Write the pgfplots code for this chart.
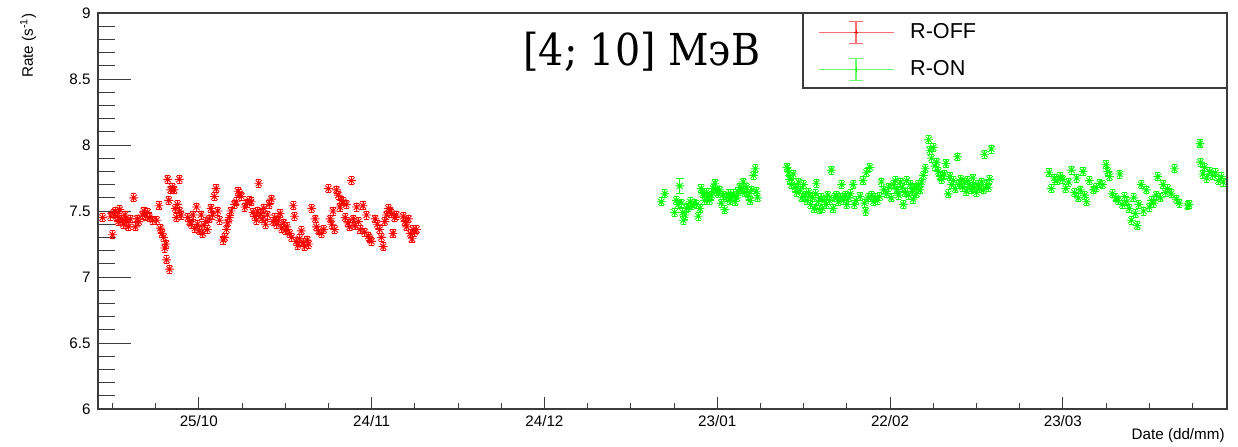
\documentclass[border=0pt]{standalone}
\usepackage{graphicx}
\usepackage{fontspec}
\setmainfont{Liberation Sans}
\newfontfamily\titlefont{DejaVu Serif}
\usepackage{pgfplots}
\usepackage{pgfplotstable}
\pgfplotsset{compat=1.18}

\definecolor{rootred}{RGB}{255,0,0}
\definecolor{rootgreen}{RGB}{0,255,0}
\definecolor{rootredlight}{RGB}{255,110,110}
\definecolor{rootgreenlight}{RGB}{110,255,110}
\definecolor{frame}{RGB}{60,60,60}

% ROOT-style asterisk marker: a "+" and an "x" overlaid
\pgfdeclareplotmark{rootstar}{%
  \pgfpathmoveto{\pgfqpoint{-\pgfplotmarksize}{0pt}}\pgfpathlineto{\pgfqpoint{\pgfplotmarksize}{0pt}}%
  \pgfpathmoveto{\pgfqpoint{0pt}{-\pgfplotmarksize}}\pgfpathlineto{\pgfqpoint{0pt}{\pgfplotmarksize}}%
  \pgfpathmoveto{\pgfqpoint{-.707\pgfplotmarksize}{-.707\pgfplotmarksize}}\pgfpathlineto{\pgfqpoint{.707\pgfplotmarksize}{.707\pgfplotmarksize}}%
  \pgfpathmoveto{\pgfqpoint{-.707\pgfplotmarksize}{.707\pgfplotmarksize}}\pgfpathlineto{\pgfqpoint{.707\pgfplotmarksize}{-.707\pgfplotmarksize}}%
  \pgfusepathqstroke}

% legend symbol: line with an error bar and a tiny marker in the middle
\newcommand\errlegend[2]{%
  \draw[draw=#2, line width=0.6pt] (0pt,0pt) -- (37.5pt,0pt);
  \draw[draw=#2, line width=0.6pt] (18.75pt,-5.5pt) -- (18.75pt,5.5pt);
  \draw[draw=#2, line width=0.6pt] (15.25pt,-5.5pt) -- (22.25pt,-5.5pt);
  \draw[draw=#2, line width=0.6pt] (15.25pt,5.5pt) -- (22.25pt,5.5pt);
  \draw[draw=#1, line width=0.5pt] (17.6pt,0pt) -- (19.9pt,0pt);
  \draw[draw=#1, line width=0.5pt] (18.75pt,-1.1pt) -- (18.75pt,1.1pt);
}

\newcommand\tickfont{\fontsize{7.6}{9}\selectfont}

% days counted from 25/10, rate in 1/s
\pgfplotstableread{
day rate
-16.7 7.45
-15.3 7.46
-15.0 7.32
-14.8 7.48
-14.5 7.50
-14.2 7.46
-14.0 7.42
-13.7 7.51
-13.4 7.44
-13.1 7.40
-12.8 7.47
-12.5 7.42
-12.2 7.38
-11.9 7.44
-11.3 7.60
-11.0 7.38
-10.7 7.44
-10.4 7.42
-9.8 7.47
-9.5 7.50
-9.2 7.46
-8.9 7.49
-8.6 7.45
-8.0 7.43
-7.3 7.43
-6.9 7.54
-6.7 7.37
-6.4 7.33
-6.1 7.30
-5.9 7.22
-5.7 7.25
-5.6 7.13
-5.4 7.74
-5.2 7.58
-5.1 7.06
-4.9 7.66
-4.6 7.68
-4.3 7.66
-4.1 7.52
-3.9 7.45
-3.7 7.55
-3.4 7.74
-3.3 7.50
-3.1 7.47
-1.9 7.45
-1.6 7.42
-1.3 7.40
-1.0 7.47
-0.7 7.37
-0.4 7.53
-0.2 7.40
0.1 7.35
0.4 7.47
0.7 7.33
0.9 7.39
1.2 7.42
1.5 7.36
1.8 7.44
2.1 7.52
2.4 7.47
2.7 7.61
3.0 7.67
3.3 7.50
3.6 7.43
4.2 7.28
4.5 7.30
4.8 7.36
5.0 7.41
5.3 7.45
5.6 7.50
6.2 7.55
6.5 7.57
6.8 7.65
7.1 7.63
7.4 7.61
8.0 7.53
8.4 7.56
8.8 7.58
9.1 7.57
9.4 7.49
9.7 7.46
10.0 7.43
10.2 7.50
10.4 7.71
10.7 7.48
11.0 7.44
11.3 7.52
11.6 7.40
11.9 7.47
12.2 7.55
12.6 7.59
12.9 7.42
13.2 7.45
13.5 7.40
13.8 7.43
14.1 7.48
14.4 7.37
14.7 7.41
15.0 7.35
15.3 7.38
15.8 7.33
16.1 7.30
16.4 7.54
16.6 7.46
16.9 7.27
17.2 7.24
17.5 7.29
17.8 7.35
18.1 7.26
18.4 7.23
18.8 7.28
19.1 7.25
19.6 7.52
20.2 7.44
20.4 7.38
20.8 7.35
21.3 7.33
21.7 7.36
22.5 7.67
22.8 7.44
23.1 7.40
23.3 7.50
23.6 7.36
23.9 7.66
24.2 7.62
24.5 7.53
24.8 7.58
25.1 7.57
25.4 7.45
25.6 7.55
25.9 7.41
26.2 7.38
26.5 7.73
26.8 7.44
27.1 7.39
27.4 7.53
27.7 7.42
28.0 7.36
28.5 7.54
28.8 7.34
29.1 7.47
29.4 7.31
29.7 7.29
30.0 7.27
30.6 7.44
31.0 7.40
31.4 7.36
31.7 7.30
32.0 7.23
32.3 7.42
32.6 7.47
32.9 7.52
33.2 7.50
33.5 7.48
33.7 7.33
34.0 7.45
34.3 7.47
35.5 7.46
35.8 7.42
36.1 7.38
36.4 7.44
36.7 7.33
37.0 7.29
37.2 7.36
37.5 7.34
37.8 7.36
}\roff

\pgfplotstableread{
day rate
80.3 7.57
80.9 7.63
82.6 7.49
82.9 7.58
83.2 7.55
83.8 7.56
84.0 7.49
84.1 7.43
84.4 7.47
84.7 7.52
85.0 7.53
85.3 7.57
85.6 7.54
86.0 7.56
86.4 7.55
86.7 7.46
87.0 7.52
87.2 7.67
87.5 7.63
87.8 7.58
88.1 7.64
88.4 7.60
88.7 7.58
89.0 7.62
89.3 7.67
89.6 7.71
89.9 7.65
90.2 7.63
90.4 7.66
90.7 7.56
91.0 7.62
91.3 7.51
91.6 7.60
91.9 7.63
92.2 7.58
92.5 7.61
92.8 7.63
93.1 7.57
93.4 7.60
93.6 7.65
93.9 7.68
94.2 7.66
94.5 7.72
94.8 7.64
95.1 7.68
95.4 7.62
95.7 7.58
96.0 7.66
96.3 7.77
96.6 7.82
96.8 7.65
97.0 7.60
102.1 7.83
102.4 7.79
102.6 7.74
102.9 7.70
103.2 7.78
103.5 7.68
103.8 7.64
104.1 7.72
104.4 7.66
104.7 7.60
105.0 7.70
105.3 7.62
105.6 7.58
105.9 7.64
106.2 7.55
106.5 7.60
106.8 7.52
107.1 7.63
107.2 7.71
107.5 7.57
107.8 7.51
108.0 7.60
108.3 7.52
108.6 7.58
108.9 7.55
109.2 7.62
109.5 7.58
109.8 7.81
110.1 7.52
110.4 7.60
110.7 7.62
111.0 7.57
111.3 7.60
111.6 7.70
111.9 7.58
112.2 7.62
112.5 7.55
112.8 7.60
113.1 7.63
113.6 7.70
113.8 7.55
114.1 7.58
114.8 7.61
115.3 7.73
115.6 7.56
115.8 7.50
115.9 7.79
116.2 7.60
116.5 7.83
116.8 7.62
117.1 7.57
117.4 7.60
117.8 7.58
118.2 7.61
118.5 7.72
118.9 7.66
119.4 7.63
119.8 7.68
120.2 7.60
120.6 7.70
120.9 7.73
121.2 7.66
121.5 7.62
121.8 7.72
122.1 7.68
122.3 7.55
122.6 7.64
122.9 7.73
123.2 7.62
123.5 7.70
123.8 7.65
124.0 7.59
124.3 7.68
124.6 7.63
124.9 7.70
125.2 7.66
125.5 7.72
125.8 7.77
126.1 7.82
126.7 8.04
126.9 7.96
127.2 7.90
127.5 7.98
127.8 7.84
128.1 7.87
128.4 7.80
128.7 7.76
129.0 7.74
129.4 7.78
129.7 7.86
130.1 7.63
130.4 7.76
130.7 7.70
131.0 7.73
131.3 7.67
131.7 7.91
132.0 7.70
132.3 7.74
132.6 7.68
132.9 7.72
133.2 7.65
133.5 7.73
133.8 7.70
134.1 7.66
134.4 7.75
134.7 7.68
135.0 7.64
135.3 7.70
135.6 7.67
135.9 7.72
136.2 7.66
136.4 7.93
136.8 7.70
137.1 7.68
137.3 7.74
137.6 7.97
147.6 7.79
148.0 7.67
148.5 7.75
149.0 7.73
149.5 7.76
150.0 7.74
150.5 7.67
151.0 7.72
151.5 7.81
152.0 7.64
152.4 7.75
152.7 7.60
153.0 7.66
153.5 7.80
153.8 7.62
154.1 7.57
154.6 7.73
155.3 7.66
155.8 7.68
156.4 7.71
156.9 7.70
157.5 7.85
157.8 7.80
158.1 7.76
158.6 7.63
159.2 7.60
159.6 7.58
159.9 7.78
160.3 7.55
160.7 7.61
161.1 7.57
161.5 7.52
161.9 7.43
162.3 7.60
162.6 7.48
162.9 7.39
163.2 7.55
163.6 7.70
164.0 7.50
164.5 7.66
165.0 7.53
165.4 7.58
165.8 7.56
166.2 7.62
166.5 7.76
166.9 7.60
167.4 7.70
167.8 7.64
168.2 7.67
168.8 7.63
169.4 7.82
169.7 7.59
170.2 7.56
171.7 7.54
171.9 7.55
173.8 8.01
173.9 7.87
174.3 7.78
174.6 7.83
175.0 7.75
175.5 7.80
176.0 7.77
176.5 7.79
177.0 7.73
177.5 7.76
177.8 7.72
}\ron

\begin{document}
\begin{tikzpicture}
\useasboundingbox (0,0) rectangle (619pt,223pt);

% data, frame and rate ticks
\begin{axis}[
  at={(49pt,18.5pt)}, anchor=south west,
  width=564.5pt, height=198pt, scale only axis,
  xmin=-17.5, xmax=178.5, ymin=6, ymax=9,
  axis line style={frame, line width=0.6pt},
  tick pos=left, tick align=inside,
  xtick=\empty,
  ytick={6,6.5,...,9}, minor y tick num=4,
  major tick length=16.7pt, minor tick length=8.3pt,
  every tick/.style={frame, line width=0.5pt},
  /pgf/number format/assume math mode=true,
  yticklabel style={font=\tickfont, inner sep=0pt, xshift=-3.5pt},
  ylabel={Rate (s\textsuperscript{-1})},
  ylabel style={font=\tickfont, inner sep=0pt, at={(axis description cs:-0.062,1)}, anchor=east},
  legend style={at={(rel axis cs:0.6377,0.981)}, anchor=north west,
    draw=none, fill=none, inner sep=0pt, outer sep=0pt,
    row sep=7pt, column sep=8pt,
    font=\fontsize{10.8}{13}\selectfont,
    nodes={inner sep=0pt}, cells={anchor=west}},
  legend cell align=left,
]
\addplot[only marks, mark=rootstar, mark size=2.2pt, rootred, line width=0.45pt,
  error bars/.cd, y dir=both, y fixed=0.03,
  error bar style={line width=0.4pt},
  error mark options={rotate=90, mark size=1.3pt, line width=0.4pt},
  /pgfplots/legend image code/.code={\errlegend{rootred}{rootredlight}}]
  table[x=day, y=rate] {\roff};
\addlegendentry{R-OFF}
\addplot[only marks, mark=rootstar, mark size=2.2pt, rootgreen, line width=0.45pt,
  error bars/.cd, y dir=both, y fixed=0.03,
  error bar style={line width=0.4pt},
  error mark options={rotate=90, mark size=1.3pt, line width=0.4pt},
  /pgfplots/legend image code/.code={\errlegend{rootgreen}{rootgreenlight}}]
  table[x=day, y=rate] {\ron};
\addlegendentry{R-ON}
% one point with a visibly larger uncertainty
\addplot[forget plot, only marks, mark=rootstar, mark size=2.2pt, rootgreen, line width=0.45pt,
  error bars/.cd, y dir=both, y explicit,
  error bar style={line width=0.5pt},
  error mark options={rotate=90, mark size=2pt, line width=0.5pt}]
  coordinates {(83.5,7.69) +- (0,0.055)};
\draw[frame, line width=0.6pt] (rel axis cs:0.6244,0.8106) rectangle (rel axis cs:1,1);
\end{axis}

% date ticks
\begin{axis}[
  at={(49pt,18.5pt)}, anchor=south west,
  width=564.5pt, height=198pt, scale only axis,
  xmin=-17.5, xmax=178.5, ymin=6, ymax=9,
  axis line style={frame, line width=0.6pt},
  tick pos=left, tick align=inside,
  ytick=\empty,
  xtick={0,30,60,90,120,150},
  xticklabels={25/10,24/11,24/12,23/01,22/02,23/03},
  minor xtick={-15,-7.5,7.5,15,22.5,37.5,45,52.5,67.5,75,82.5,97.5,105,112.5,127.5,135,142.5,157.5,165,172.5},
  major tick length=6pt, minor tick length=3pt,
  every tick/.style={frame, line width=0.5pt},
  xticklabel style={font=\tickfont, inner sep=0pt, anchor=north, yshift=-3pt},
  xlabel={Date (dd/mm)},
  xlabel style={font=\tickfont, inner sep=0pt, at={(axis description cs:1,0)}, anchor=east, yshift=-13.5pt, xshift=-1pt},
]
\end{axis}

\node[anchor=base west, inner sep=0pt] at (261.5pt,190.5pt)
  {\scalebox{0.9}[1]{\titlefont\fontsize{22}{26}\selectfont [4; 10] МэВ}};
\end{tikzpicture}
\end{document}
